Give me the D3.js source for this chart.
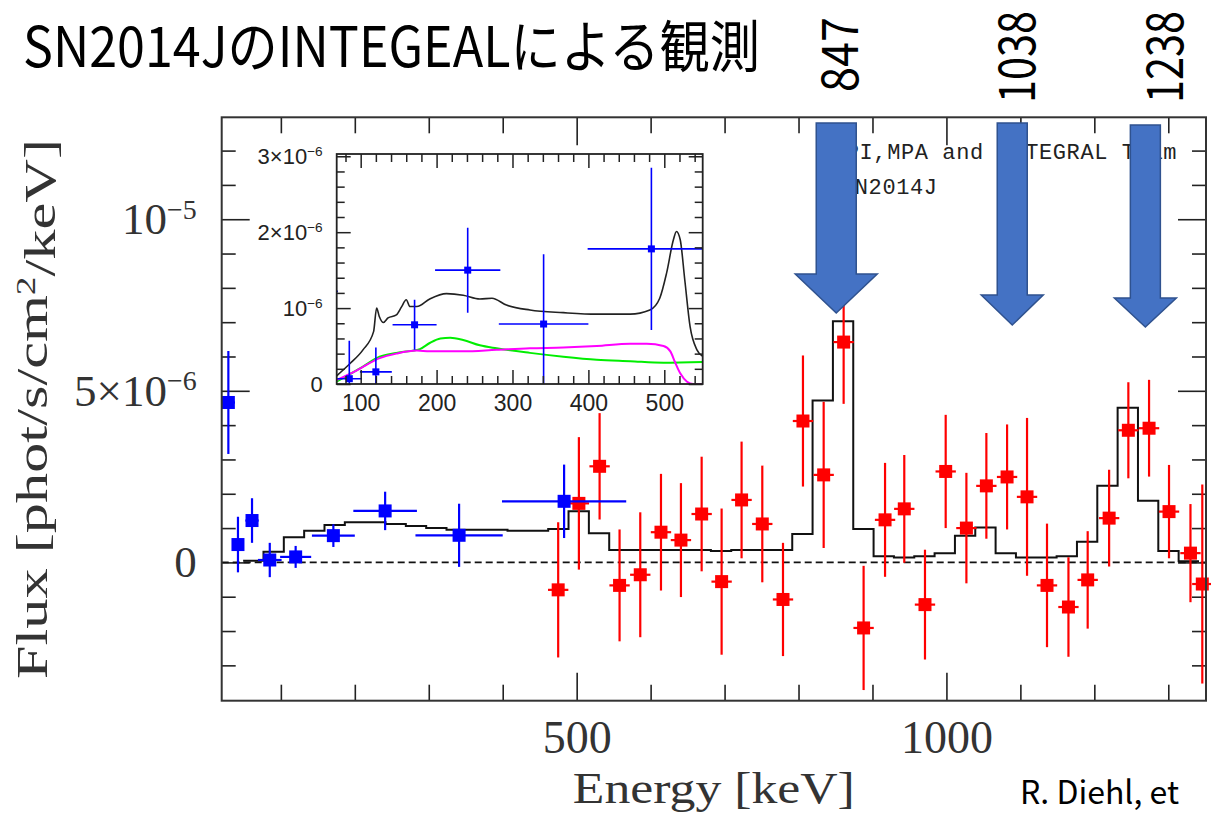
<!DOCTYPE html>
<html>
<head>
<meta charset="utf-8">
<script src="https://cdn.jsdelivr.net/npm/d3@7"></script>
<style>
body { margin: 0; background: #fff; }
svg { display: block; }
</style>
</head>
<body>
<svg id="chart" width="1211" height="815"></svg>
<script>
// all flux values in units of 1e-6 phot/s/cm2/keV

// model spectrum (black histogram): bin edges [keV] and level of each bin
var modelEdges = [49, 76.5, 104, 131.5, 159, 186.5, 214, 241.5, 269, 296.5,
    324, 351.5, 379, 406.5, 434, 461.5, 489, 516.5, 544, 571.5,
    599, 626.5, 654, 681.5, 709, 736.5, 764, 791.5, 819, 846.5,
    874, 901.5, 929, 956.5, 984, 1011.5, 1039, 1066.5, 1094, 1121.5,
    1149, 1176.5, 1204, 1231.5, 1259, 1286.5, 1314, 1341.5];
var modelFlux = [0.05, 0.31, 0.73, 0.92, 1.09, 1.17, 1.17, 1.12, 1.06, 1.00,
    0.95, 0.95, 0.95, 0.92, 0.92, 0.97, 1.49, 0.85, 0.36, 0.36,
    0.36, 0.36, 0.36, 0.33, 0.36, 0.36, 0.36, 0.83, 4.72, 7.03,
    0.97, 0.18, 0.14, 0.18, 0.27, 0.78, 1.02, 0.27, 0.14, 0.14,
    0.18, 0.60, 2.23, 4.51, 1.80, 0.33, 0.03];

// low energy points (blue)
var blueE  = [29, 42, 61, 85, 120, 171, 241, 341, 483];
var blueDE = [9, 5, 9, 16, 21, 29, 43, 59, 84];
var blueF  = [4.66, 0.52, 1.22, 0.07, 0.16, 0.78, 1.50, 0.79, 1.78];
var blueDF = [1.50, 0.81, 0.65, 0.50, 0.32, 0.33, 0.56, 0.92, 1.07];

// high energy points (red)
var redE  = [475, 503, 531, 558, 586, 614, 641, 669, 696, 723, 751, 779, 806, 834, 861, 888, 917,
    943, 971, 999, 1027, 1054, 1082, 1109, 1136, 1165, 1191, 1220, 1246, 1274, 1301, 1330, 1346];
var redF  = [-0.80, 1.72, 2.80, -0.67, -0.36, 0.88, 0.65, 1.41, -0.56, 1.82, 1.12, -1.08, 4.12, 2.55, 6.42, -1.91, 1.24,
    1.56, -1.23, 2.65, 1.00, 2.23, 2.49, 1.91, -0.67, -1.30, -0.51, 1.29, 3.85, 3.91, 1.48, 0.27, -0.63];
var redDF = [1.97, 1.93, 1.55, 1.63, 1.82, 1.70, 1.66, 1.67, 2.13, 1.70, 1.70, 1.65, 1.91, 2.13, 1.80, 1.81, 1.66,
    1.57, 1.60, 1.65, 1.61, 1.54, 1.53, 2.30, 1.80, 1.45, 1.42, 1.41, 1.40, 1.41, 1.36, 1.43, 2.90];
var redHalfBin = 13.75;

// inset model curves
var insetTotE = [68, 86, 103, 117, 121, 124.5, 130, 136, 147, 154, 160, 165, 174, 191, 213, 235, 257,
    273, 292, 323, 367, 411, 455, 481, 494, 503, 512, 516, 521, 527, 534, 543, 551];
var insetTotF = [0.105, 0.27, 0.45, 0.69, 1.0, 0.89, 0.81, 0.87, 0.91, 1.02, 1.11, 1.02, 1.02, 1.12, 1.19, 1.17, 1.12,
    1.13, 1.04, 0.975, 0.94, 0.92, 0.92, 0.975, 1.13, 1.46, 1.90, 2.01, 1.90, 1.37, 0.755, 0.45, 0.36];
var insetGreenE = [68, 103, 125, 147, 178, 191, 205, 218, 235, 257, 279, 323, 367, 411, 455, 499, 551];
var insetGreenF = [0.03, 0.23, 0.36, 0.41, 0.46, 0.54, 0.60, 0.61, 0.58, 0.51, 0.47, 0.41, 0.36, 0.32, 0.30, 0.28, 0.29];
var insetMagE = [68, 95, 125, 147, 174, 191, 235, 279, 323, 367, 411, 455, 477, 499, 508, 514, 521, 530, 538, 551];
var insetMagF = [0.05, 0.18, 0.34, 0.40, 0.44, 0.43, 0.43, 0.45, 0.47, 0.48, 0.50, 0.53, 0.53, 0.50, 0.43, 0.29, 0.14, 0.03, 0, 0];

// ticks and labels
var xMajorTicks = [500, 1000];
var xTickLabels = ["500", "1000"];
var yMajorTicks = [0, 5, 10];
var yTickLabels = [["0", ""], ["5×10", "−6"], ["10", "−5"]];
var insetXMajor = [100, 200, 300, 400, 500];
var insetYMajor = [0, 1, 2, 3];
var insetYLabels = [["0", ""], ["10", "−6"], ["2×10", "−6"], ["3×10", "−6"]];

// line annotations
var arrowLabels = ["847", "1038", "1238"];
var arrowKeV = [851, 1089, 1269];

var titleText = "SN2014JのINTEGEALによる観測";
var creditText = "R. Diehl, et";

// ---------------- layout ----------------
var svg = d3.select("#chart");
var frame = {left: 221.7, right: 1206, top: 117.3, bottom: 700.7};
var inset = {left: 336.7, right: 702.7, top: 154, bottom: 384};
var serif = '"Liberation Serif", "DejaVu Serif", serif';
var sans = '"Liberation Sans", Arial, sans-serif';
var jp = '"Noto Sans CJK JP", "Noto Sans", sans-serif';

var x = d3.scaleLinear().domain([20, 1351]).range([frame.left, frame.right]);
var y = d3.scaleLinear().domain([-4.03, 12.97]).range([frame.bottom, frame.top]);

function supText(sel, parts) {
    sel.text(null);
    sel.append("tspan").text(parts[0]);
    if (parts[1]) sel.append("tspan").attr("dy", "-0.55em").attr("font-size", "0.62em").text(parts[1]);
}

// title
svg.append("text")
    .attr("x", 23).attr("y", 67)
    .attr("font-family", jp).attr("font-size", 56)
    .attr("textLength", 737).attr("lengthAdjust", "spacingAndGlyphs")
    .text(titleText);

// ---------------- main plot ----------------
var main = svg.append("g");

function tickAxis(axisFn, scale, values, size, tx, ty) {
    var g = main.append("g")
        .attr("transform", "translate(" + tx + "," + ty + ")")
        .call(axisFn(scale).tickValues(values).tickSize(size).tickSizeOuter(0).tickFormat(""));
    g.select(".domain").remove();
    g.selectAll(".tick line").attr("stroke", "#222").attr("stroke-width", 1.6);
    return g;
}

var xMinor = d3.range(100, 1400, 100).filter(function (d) { return xMajorTicks.indexOf(d) < 0; });
var yMinor = d3.range(-3, 13, 1).filter(function (d) { return yMajorTicks.indexOf(d) < 0; });

tickAxis(d3.axisBottom, x, xMinor, -16, 0, frame.bottom);
tickAxis(d3.axisTop, x, xMinor, -16, 0, frame.top);
tickAxis(d3.axisTop, x, xMajorTicks, -28, 0, frame.top);
tickAxis(d3.axisLeft, y, yMinor, -14, frame.left, 0);
tickAxis(d3.axisRight, y, yMinor, -14, frame.right, 0);
tickAxis(d3.axisRight, y, yMajorTicks, -28, frame.right, 0);

var xAx = tickAxis(d3.axisBottom, x, xMajorTicks, -28, 0, frame.bottom);
xAx.selectAll(".tick").each(function (d) {
    d3.select(this).append("text")
        .attr("y", 20).attr("dy", "0.71em").attr("text-anchor", "middle")
        .attr("font-family", serif).attr("font-size", 46).attr("fill", "#333")
        .text(xTickLabels[xMajorTicks.indexOf(d)]);
});

var yAx = tickAxis(d3.axisLeft, y, yMajorTicks, -28, frame.left, 0);
yAx.selectAll(".tick").each(function (d) {
    var t = d3.select(this).append("text")
        .attr("x", -25).attr("dy", "0.32em").attr("text-anchor", "end")
        .attr("font-family", serif).attr("font-size", 45).attr("fill", "#333");
    supText(t, yTickLabels[yMajorTicks.indexOf(d)]);
});

// axis titles
svg.append("text")
    .attr("x", (frame.left + frame.right) / 2).attr("y", 803)
    .attr("text-anchor", "middle")
    .attr("font-family", serif).attr("font-size", 44).attr("fill", "#333")
    .attr("textLength", 282).attr("lengthAdjust", "spacingAndGlyphs")
    .text("Energy [keV]");

var yt = svg.append("text")
    .attr("transform", "translate(47," + ((frame.top + frame.bottom) / 2) + ") rotate(-90)")
    .attr("text-anchor", "middle")
    .attr("font-family", serif).attr("font-size", 44).attr("fill", "#333")
    .attr("textLength", 540).attr("lengthAdjust", "spacingAndGlyphs");
yt.append("tspan").text("Flux [phot/s/cm");
yt.append("tspan").attr("dy", "-0.45em").attr("font-size", "0.62em").text("2");
yt.append("tspan").attr("dy", "0.45em").text("/keV]");

// team text (partly under the arrows)
main.append("text")
    .attr("x", 1177).attr("y", 159).attr("text-anchor", "end")
    .attr("font-family", '"Liberation Mono", "DejaVu Sans Mono", monospace')
    .attr("font-size", 22).attr("fill", "#222").attr("letter-spacing", 0.6)
    .text("MPI,MPA and INTEGRAL Team");
main.append("text")
    .attr("x", 841).attr("y", 194)
    .attr("font-family", '"Liberation Mono", "DejaVu Sans Mono", monospace')
    .attr("font-size", 22).attr("fill", "#222").attr("letter-spacing", 0.6)
    .text("SN2014J");

// zero line
main.append("line")
    .attr("x1", frame.left).attr("x2", frame.right)
    .attr("y1", y(0)).attr("y2", y(0))
    .attr("stroke", "#111").attr("stroke-width", 1.6).attr("stroke-dasharray", "7,4");

// model histogram
var stepPts = modelEdges.map(function (e, i) {
    return [e, modelFlux[Math.min(i, modelFlux.length - 1)]];
});
main.append("path")
    .attr("d", d3.line().x(function (d) { return x(d[0]); }).y(function (d) { return y(d[1]); })
        .curve(d3.curveStepAfter)(stepPts))
    .attr("fill", "none").attr("stroke", "#111").attr("stroke-width", 2);

function errPoints(g, sx, sy, E, DE, F, DF, color, size, lw) {
    var pts = E.map(function (e, i) {
        return {e: e, de: DE[i], f: F[i], df: DF[i]};
    });
    var p = g.append("g").selectAll("g").data(pts).enter().append("g");
    p.append("line")
        .attr("x1", function (d) { return sx(Math.max(d.e - d.de, sx.domain()[0])); })
        .attr("x2", function (d) { return sx(d.e + d.de); })
        .attr("y1", function (d) { return sy(d.f); }).attr("y2", function (d) { return sy(d.f); })
        .attr("stroke", color).attr("stroke-width", lw);
    p.append("line")
        .attr("x1", function (d) { return sx(d.e); }).attr("x2", function (d) { return sx(d.e); })
        .attr("y1", function (d) { return sy(d.f - d.df); }).attr("y2", function (d) { return sy(d.f + d.df); })
        .attr("stroke", color).attr("stroke-width", lw);
    p.append("rect")
        .attr("x", function (d) { return sx(d.e) - size / 2; })
        .attr("y", function (d) { return sy(d.f) - size / 2; })
        .attr("width", size).attr("height", size)
        .attr("fill", color);
}

errPoints(main, x, y, redE, redE.map(function () { return redHalfBin; }), redF, redDF, "#ff0000", 13, 2.2);
errPoints(main, x, y, blueE, blueDE, blueF, blueDF, "#0000ff", 13, 2.2);

// frame
main.append("rect")
    .attr("x", frame.left).attr("y", frame.top)
    .attr("width", frame.right - frame.left).attr("height", frame.bottom - frame.top)
    .attr("fill", "none").attr("stroke", "#333").attr("stroke-width", 2);

// ---------------- inset ----------------
var ix = d3.scaleLinear().domain([68.4, 550.6]).range([inset.left, inset.right]);
var iy = d3.scaleLinear().domain([0, 3.03]).range([inset.bottom, inset.top]);
var ig = svg.append("g");

ig.append("rect")
    .attr("x", inset.left).attr("y", inset.top)
    .attr("width", inset.right - inset.left).attr("height", inset.bottom - inset.top)
    .attr("fill", "#fff");

svg.append("clipPath").attr("id", "insetClip").append("rect")
    .attr("x", inset.left).attr("y", inset.top)
    .attr("width", inset.right - inset.left).attr("height", inset.bottom - inset.top);

var ic = ig.append("g").attr("clip-path", "url(#insetClip)");

function curve(E, F, color, lw) {
    ic.append("path")
        .attr("d", d3.line().x(function (d) { return ix(d[0]); }).y(function (d) { return iy(d[1]); })
            .curve(d3.curveMonotoneX)(E.map(function (e, i) { return [e, F[i]]; })))
        .attr("fill", "none").attr("stroke", color).attr("stroke-width", lw);
}
curve(insetGreenE, insetGreenF, "#00ee00", 2);
curve(insetMagE, insetMagF, "#ff00ff", 2);
curve(insetTotE, insetTotF, "#222", 1.6);
errPoints(ic, ix, iy, blueE, blueDE, blueF, blueDF, "#0000ff", 7, 1.6);

function insetTicks(axisFn, scale, values, size, tx, ty) {
    var g = ig.append("g")
        .attr("transform", "translate(" + tx + "," + ty + ")")
        .call(axisFn(scale).tickValues(values).tickSize(size).tickSizeOuter(0).tickFormat(""));
    g.select(".domain").remove();
    g.selectAll(".tick line").attr("stroke", "#222").attr("stroke-width", 1.5);
    return g;
}
var ixMinor = d3.range(80, 550, 20).filter(function (d) { return insetXMajor.indexOf(d) < 0; });
var iyMinor = d3.range(0.2, 3.01, 0.2).filter(function (d) { return Math.abs(d - Math.round(d)) > 0.01; });

insetTicks(d3.axisTop, ix, ixMinor, -8, 0, inset.top);
insetTicks(d3.axisTop, ix, insetXMajor, -14, 0, inset.top);
insetTicks(d3.axisBottom, ix, ixMinor, -8, 0, inset.bottom);
insetTicks(d3.axisLeft, iy, iyMinor, -8, inset.left, 0);
insetTicks(d3.axisRight, iy, iyMinor, -8, inset.right, 0);
insetTicks(d3.axisRight, iy, insetYMajor, -14, inset.right, 0);

var ixAx = insetTicks(d3.axisBottom, ix, insetXMajor, -14, 0, inset.bottom);
ixAx.selectAll(".tick").append("text")
    .attr("y", 11).attr("dy", "0.71em").attr("text-anchor", "middle")
    .attr("font-family", sans).attr("font-size", 23).attr("fill", "#222")
    .text(function (d) { return d; });

var iyAx = insetTicks(d3.axisLeft, iy, insetYMajor, -14, inset.left, 0);
iyAx.selectAll(".tick").each(function (d) {
    var t = d3.select(this).append("text")
        .attr("x", -14).attr("dy", "0.32em").attr("text-anchor", "end")
        .attr("font-family", sans).attr("font-size", 22).attr("fill", "#222");
    supText(t, insetYLabels[insetYMajor.indexOf(d)]);
});

ig.append("rect")
    .attr("x", inset.left).attr("y", inset.top)
    .attr("width", inset.right - inset.left).attr("height", inset.bottom - inset.top)
    .attr("fill", "none").attr("stroke", "#222").attr("stroke-width", 1.8);

// ---------------- arrows ----------------
var arrowShaft = [40, 30, 30], arrowHead = [82, 62, 62];
var arrowTop = [123, 123, 125], arrowNeck = [274, 295, 298], arrowTip = [313, 325, 327];
var labelShift = [22, 23, 38], labelStart = [92, 103, 103], labelLen = [75, 92, 92];

arrowKeV.forEach(function (k, i) {
    var cx = x(k), s = arrowShaft[i] / 2, h = arrowHead[i] / 2;
    var pts = [[cx - s, arrowTop[i]], [cx + s, arrowTop[i]], [cx + s, arrowNeck[i]], [cx + h, arrowNeck[i]],
        [cx, arrowTip[i]], [cx - h, arrowNeck[i]], [cx - s, arrowNeck[i]]];
    svg.append("path")
        .attr("d", "M" + pts.join("L") + "Z")
        .attr("fill", "#4472c4").attr("stroke", "#2f528f").attr("stroke-width", 1.5);
    var t = svg.append("text")
        .attr("font-family", jp).attr("font-size", 50)
        .text(arrowLabels[i]);
    // squeeze the label to the measured length instead of textLength
    var sc = labelLen[i] / t.node().getComputedTextLength();
    t.attr("transform", "translate(" + (cx + labelShift[i]) + "," + labelStart[i] + ") rotate(-90) scale(" + sc + ",1)");
});

svg.append("text")
    .attr("x", 1020).attr("y", 804)
    .attr("font-family", jp).attr("font-size", 32)
    .text(creditText);
</script>
</body>
</html>
